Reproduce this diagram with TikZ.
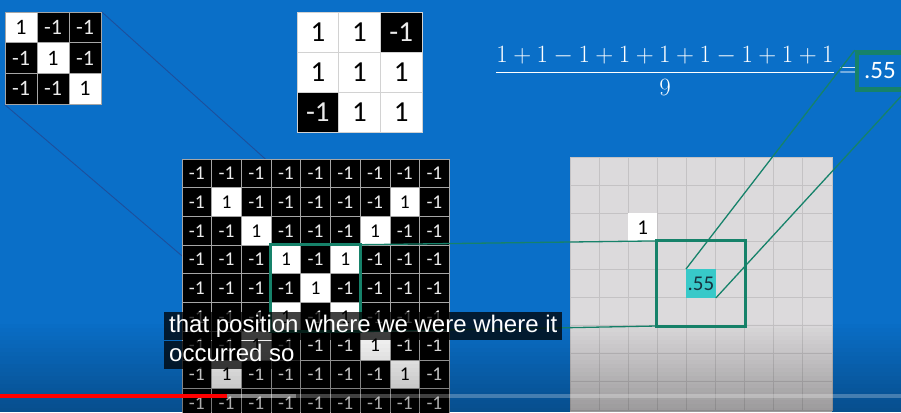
\documentclass[tikz,border=0pt]{standalone}
\usepackage{amsmath}
\usepackage{fontspec}
\newfontfamily\cellfont{Carlito}
\newfontfamily\subfont{Liberation Sans}
\usepackage{tikz}
\usetikzlibrary{positioning}
\definecolor{SlideBlue}{HTML}{0A6FC8}
\definecolor{BoxGreen}{HTML}{16826A}
\definecolor{LinkBlue}{HTML}{1D4F9C}
\definecolor{PanelGray}{HTML}{DCDADC}
\definecolor{PanelLine}{HTML}{C4C2C4}
\definecolor{HitCyan}{HTML}{38C9C9}
\definecolor{HitText}{HTML}{17323F}
\pgfdeclarelayer{back}
\pgfdeclarelayer{under}
\pgfsetlayers{back,under,main}
\tikzset{
  cell/.style={draw=gray!70, line width=0.8pt, inner sep=0pt},
  poscell/.style={cell, fill=white, text=black},
  negcell/.style={cell, fill=black, text=white!92!black},
  fcell/.style={minimum width=32pt, minimum height=30.7pt, font=\cellfont\fontsize{22}{24}\selectfont},
  mcell/.style={draw=gray!35, minimum width=41.7pt, minimum height=40pt, font=\cellfont\fontsize{29}{31}\selectfont},
  gcell/.style={minimum width=29.7pt, minimum height=28.7pt, font=\cellfont\fontsize{19.5}{21}\selectfont},
  pcell/.style={draw=PanelLine, line width=0.8pt, inner sep=0pt, minimum width=29.1pt, minimum height=28.1pt},
  greenbox/.style={draw=BoxGreen, line width=3pt},
  link/.style={BoxGreen, line width=1.3pt},
  filterlink/.style={LinkBlue, line width=0.9pt},
  subline/.style={fill=black, fill opacity=0.75, text opacity=1, text=white,
    font=\subfont\fontsize{24}{28}\selectfont, inner xsep=5pt, inner ysep=0pt,
    minimum height=28pt, text height=18pt, text depth=5pt, anchor=north west}
}
\begin{document}
\begin{tikzpicture}[x=1pt, y=-1pt]
  \useasboundingbox (0,0) rectangle (901,412);
  \clip (0,0) rectangle (901,412);
  \begin{pgfonlayer}{back}
    \fill[SlideBlue] (0,0) rectangle (901,412);
  \end{pgfonlayer}

  % filter (top left)
  \foreach \v [count=\i from 0] in {1,-1,-1,-1,1,-1,-1,-1,1} {
    \pgfmathtruncatemacro\r{\i/3}
    \pgfmathtruncatemacro\c{mod(\i,3)}
    \ifnum\v>0 \def\sty{poscell}\else\def\sty{negcell}\fi
    \node[\sty, fcell] (f-\r-\c) at ({5+32*(\c+0.5)}, {12+30.7*(\r+0.5)}) {\v};
  }

  % products (top middle)
  \foreach \v [count=\i from 0] in {1,1,-1,1,1,1,-1,1,1} {
    \pgfmathtruncatemacro\r{\i/3}
    \pgfmathtruncatemacro\c{mod(\i,3)}
    \ifnum\v>0 \def\sty{poscell}\else\def\sty{negcell}\fi
    \node[\sty, mcell] (m-\r-\c) at ({297+41.7*(\c+0.5)}, {12+40*(\r+0.5)}) {\v};
  }

  % image of the X
  \foreach \r in {0,...,8}
    \foreach \c in {0,...,8} {
      \pgfmathtruncatemacro\isone{and(or(\r==\c,\r+\c==8),and(\r>0,\r<8))}
      \ifnum\isone=1 \def\sty{poscell}\def\val{1}\else\def\sty{negcell}\def\val{-1}\fi
      \node[\sty, gcell] (g-\r-\c) at ({182+29.7*(\c+0.5)}, {159+28.7*(\r+0.5)}) {\val};
    }
  \draw[greenbox] (g-3-3.north west) rectangle (g-5-5.south east);

  % filter corners to the patch
  \begin{pgfonlayer}{under}
    \draw[filterlink] (f-0-2.north east) -- (g-3-5.north east);
    \draw[filterlink] (f-2-0.south west) -- (g-5-3.south west);
  \end{pgfonlayer}

  % result map (right)
  \fill[PanelGray] (570,157) rectangle (832,412);
  \foreach \r in {0,...,8}
    \foreach \c in {0,...,8}
      \node[pcell] (p-\r-\c) at ({570+29.1*(\c+0.5)}, {157+28.1*(\r+0.5)}) {};
  \node[pcell, draw=none, fill=white, font=\cellfont\fontsize{21}{23}\selectfont] (one) at (p-2-2) {1};
  \node[pcell, draw=none, fill=HitCyan, text=HitText, font=\cellfont\fontsize{21}{23}\selectfont] (hit) at (p-4-4) {.55};
  \draw[greenbox] (p-3-3.north west) rectangle (p-5-5.south east);

  % formula
  \node[text=white, font=\fontsize{24}{28}\selectfont] (frac) at (665,71) {$\dfrac{1+1-1+1+1+1-1+1+1}{9}$};
  \node[text=white, font=\fontsize{24}{28}\selectfont] (eq) at (848,72) {$=$};
  \node[draw=BoxGreen, line width=4.5pt, fill=SlideBlue, text=white, minimum width=46pt, minimum height=37pt,
    inner sep=0pt, font=\cellfont\fontsize{25}{27}\selectfont] (res) at (880,71) {.55};

  % connectors
  \draw[link] (g-3-5.north east) -- (p-3-3.north west);
  \draw[link] (g-5-5.south east) -- (p-5-3.south west);
  \draw[link] (hit.north west) -- (res.north west);
  \draw[link] (hit.south east) -- (res.south east);

  % player shade at the bottom
  \foreach \k in {0,...,22} {
    \pgfmathsetmacro\op{0.3*\k/23}
    \fill[black, opacity=\op] (0,{320+4*\k}) rectangle (901,{324+4*\k});
  }

  % caption
  \node[subline] (sub1) at (164,312) {that position where we were where it};
  \node[subline] (sub2) at (sub1.south west) {occurred so};

  % progress bar
  \fill[white, opacity=0.25] (0,394) rectangle (901,398);
  \fill[white, opacity=0.35] (227,394) rectangle (296,398);
  \fill[red] (0,394) rectangle (227,398);
\end{tikzpicture}
\end{document}
